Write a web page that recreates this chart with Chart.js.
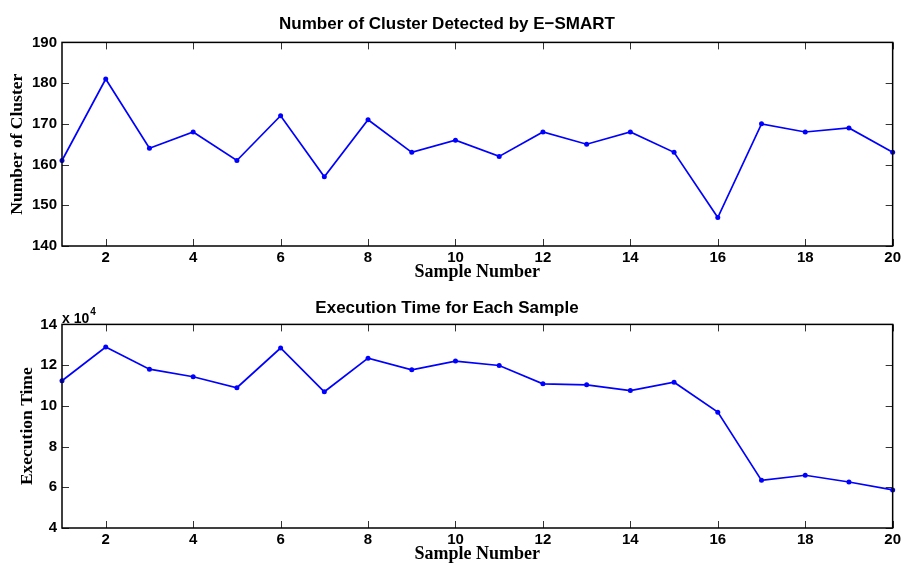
<!DOCTYPE html>
<html>
<head>
<meta charset="utf-8">
<script src="https://cdn.jsdelivr.net/npm/chart.js@4"></script>
<style>
    html, body { margin: 0; padding: 0; background: #fff; }
    .panel { position: absolute; left: 0; width: 904px; height: 282px; }
</style>
</head>
<body>
<div class="panel" style="top: 0;"><canvas id="clusterChart"></canvas></div>
<div class="panel" style="top: 282px;"><canvas id="timeChart"></canvas></div>
<script>
// Dados
const samples = [1, 2, 3, 4, 5, 6, 7, 8, 9, 10, 11, 12, 13, 14, 15, 16, 17, 18, 19, 20];
const clusterCounts = [161, 181, 164, 168, 161, 172, 157, 171, 163, 166, 162, 168, 165, 168, 163, 147, 170, 168, 169, 163];
const execTimes = [112300, 128900, 118000, 114300, 108900, 128400, 106900, 123400, 117700, 122000,
                   119800, 110800, 110300, 107500, 111600, 96900, 63400, 65900, 62600, 58700];

const xTicks = [2, 4, 6, 8, 10, 12, 14, 16, 18, 20];
const clusterTicks = [140, 150, 160, 170, 180, 190];
const timeTicks = [40000, 60000, 80000, 100000, 120000, 140000];

const tickFont = { family: 'Liberation Sans', size: 15, weight: 'bold' };
const xLabelFont = { family: 'Liberation Serif', size: 18, weight: 'bold' };
const yLabelFont = { family: 'Liberation Serif', size: 17.5, weight: 'bold' };
const titleFont = { family: 'Liberation Sans', size: 17, weight: 'bold' };

// Caixa estilo MATLAB com marcas de escala para dentro
const boxPlugin = {
    id: 'matlabBox',
    afterDraw(chart) {
        const { ctx, chartArea: a, scales } = chart;
        ctx.save();
        ctx.strokeStyle = '#333';
        ctx.lineWidth = 1;
        const len = 7;
        ctx.beginPath();
        scales.x.ticks.forEach(t => {
            const px = Math.round(scales.x.getPixelForValue(t.value)) + 0.5;
            ctx.moveTo(px, a.bottom); ctx.lineTo(px, a.bottom - len);
            ctx.moveTo(px, a.top); ctx.lineTo(px, a.top + len);
        });
        scales.y.ticks.forEach(t => {
            const py = Math.round(scales.y.getPixelForValue(t.value)) + 0.5;
            ctx.moveTo(a.left, py); ctx.lineTo(a.left + len, py);
            ctx.moveTo(a.right, py); ctx.lineTo(a.right - len, py);
        });
        ctx.stroke();
        ctx.strokeStyle = '#000';
        ctx.lineWidth = 1.5;
        ctx.strokeRect(a.left, a.top, a.right - a.left, a.bottom - a.top);
        ctx.restore();
    }
};

// Multiplicador "x 10^4" acima do eixo Y
const exponentPlugin = {
    id: 'exponent',
    afterDraw(chart) {
        const { ctx, chartArea: a } = chart;
        ctx.save();
        ctx.fillStyle = '#000';
        ctx.textBaseline = 'alphabetic';
        ctx.font = 'bold 14px "Liberation Sans"';
        ctx.fillText('x 10', a.left, a.top - 1);
        const w = ctx.measureText('x 10').width;
        ctx.font = 'bold 10px "Liberation Sans"';
        ctx.fillText('4', a.left + w + 1, a.top - 9);
        ctx.restore();
    }
};

const makeChart = (canvasId, title, titlePad, yLabel, values, yTicks, yLabelPad, yFormat, extraPlugins) => {
    return new Chart(document.getElementById(canvasId), {
        type: 'line',
        data: {
            datasets: [{
                data: samples.map((s, i) => ({ x: s, y: values[i] })),
                borderColor: '#0000ff',
                backgroundColor: '#0000ff',
                borderWidth: 1.7,
                pointRadius: 2.5,
                pointBorderWidth: 0,
                tension: 0,
                clip: false
            }]
        },
        options: {
            responsive: true,
            maintainAspectRatio: false,
            animation: false,
            layout: { padding: { left: 0, right: 10, top: 0, bottom: 0 } },
            plugins: {
                legend: { display: false },
                tooltip: { enabled: false },
                title: {
                    display: true,
                    text: title,
                    color: '#000',
                    font: titleFont,
                    padding: titlePad
                }
            },
            scales: {
                x: {
                    type: 'linear',
                    min: 1,
                    max: 20,
                    afterBuildTicks: s => { s.ticks = xTicks.map(v => ({ value: v })); },
                    afterFit: s => { s.height = 36; },
                    grid: { display: false, drawTicks: false },
                    border: { display: false },
                    ticks: { color: '#000', font: tickFont, padding: 3, maxRotation: 0 },
                    title: {
                        display: true,
                        text: 'Sample Number',
                        color: '#000',
                        font: xLabelFont,
                        padding: { top: 0, bottom: -1 }
                    }
                },
                y: {
                    min: yTicks[0],
                    max: yTicks[yTicks.length - 1],
                    afterBuildTicks: s => { s.ticks = yTicks.map(v => ({ value: v })); },
                    afterFit: s => { s.width = 62; },
                    grid: { display: false, drawTicks: false },
                    border: { display: false },
                    ticks: { color: '#000', font: tickFont, padding: 5, callback: yFormat },
                    title: {
                        display: true,
                        text: yLabel,
                        color: '#000',
                        font: yLabelFont,
                        padding: { top: yLabelPad, bottom: 0 }
                    }
                }
            }
        },
        plugins: [boxPlugin].concat(extraPlugins)
    });
};

makeChart('clusterChart', 'Number of Cluster Detected by E\u2212SMART', { top: 14, bottom: 8 },
    'Number of Cluster', clusterCounts, clusterTicks, 7, v => v, []);
makeChart('timeChart', 'Execution Time for Each Sample', { top: 16, bottom: 6 },
    'Execution Time', execTimes, timeTicks, 17, v => v / 10000, [exponentPlugin]);
</script>
</body>
</html>
